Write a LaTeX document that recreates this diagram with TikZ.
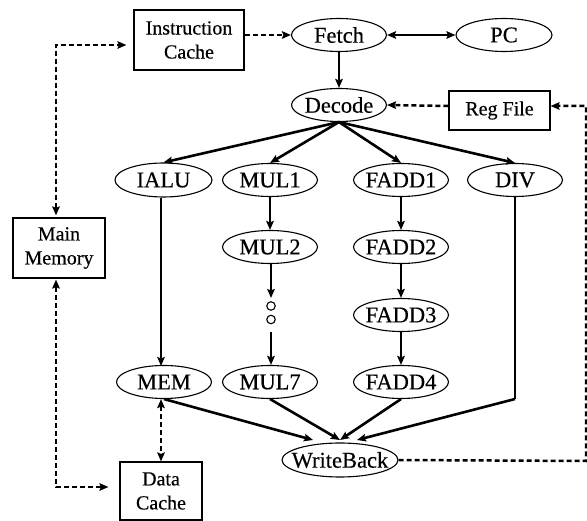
\documentclass[tikz,border=0pt]{standalone}
\usepackage{fontspec}
\setmainfont{Liberation Serif}[FakeBold=0.4]
\usetikzlibrary{arrows.meta,shapes.geometric}
\newcommand\zb[1]{\makebox[0pt]{#1}}
\begin{document}
\begin{tikzpicture}[x=1pt,y=-1pt,
  ell/.style={draw,ellipse,line width=1.1pt,inner sep=0pt,minimum width=95pt,minimum height=33pt,font=\fontsize{22.5}{24}\selectfont},
  boxn/.style={draw,rectangle,line width=1.1pt,inner sep=0pt,align=center,font=\fontsize{20}{24}\selectfont},
  tip/.style={-{Stealth[length=9pt,width=7.5pt,inset=1.5pt]}},
  dtip/.style={{Stealth[length=9pt,width=7.5pt,inset=1.5pt]}-{Stealth[length=9pt,width=7.5pt,inset=1.5pt]}},
  solid2/.style={line width=2.6pt,tip},
  dsh/.style={line width=2.5pt,dash pattern=on 5pt off 3pt},
]
\useasboundingbox (0,0) rectangle (587,521);
% nodes
\node[boxn,minimum width=110pt,minimum height=60pt] (ic) at (189,40) {Instruction\\Cache};
\node[ell] (fetch) at (339,35) {\zb{Fetch}};
\node[ell,minimum width=96pt] (pc) at (504,35) {\zb{PC}};
\node[ell] (decode) at (339,105) {\zb{Decode}};
\node[boxn,minimum width=101pt,minimum height=39pt] (rf) at (499.5,110.5) {Reg File};
\node[boxn,minimum width=92pt,minimum height=60pt] (mm) at (59,248) {Main\\Memory};
\node[boxn,minimum width=82pt,minimum height=58pt] (dc) at (161,491) {Data\\Cache};
\node[ell,minimum width=97pt,minimum height=34pt] (ialu) at (163.5,180) {\zb{IALU}};
\node[ell] (mul1) at (270,180) {\zb{MUL1}};
\node[ell] (fadd1) at (401,180) {\zb{FADD1}};
\node[ell] (div) at (515,180) {\zb{DIV}};
\node[ell] (mul2) at (270,247) {\zb{MUL2}};
\node[ell] (fadd2) at (401,247) {\zb{FADD2}};
\node[ell] (fadd3) at (401,315) {\zb{FADD3}};
\node[ell] (mem) at (164,382) {\zb{MEM}};
\node[ell] (mul7) at (270,382) {\zb{MUL7}};
\node[ell] (fadd4) at (401,382) {\zb{FADD4}};
\node[ell,minimum width=116pt,minimum height=34pt] (wb) at (340,460) {\zb{WriteBack}};
% dots
\node[draw,circle,line width=1.1pt,minimum size=8.5pt,inner sep=0pt] (d1) at (271,306) {};
\node[draw,circle,line width=1.1pt,minimum size=8.5pt,inner sep=0pt] (d2) at (271,319.5) {};
% coordinates
\coordinate (mtop) at (56,45);
\coordinate (mbot) at (56,487);
\coordinate (ialuc) at (161,198);
\coordinate (memc) at (161,366);
\coordinate (dtop) at (271,298);
\coordinate (dbot) at (271,332);
\coordinate (divc) at (515,399);
\coordinate (rc) at (586,461);
\coordinate (rtop) at (586,106);
\coordinate (w1) at (313,440);
\coordinate (w2) at (340,440);
\coordinate (w3) at (357,440);
% top connectors
\draw[dsh,tip] (ic.east |- fetch.west) -- (fetch.west);
\draw[line width=2.6pt,dtip] (fetch.east) -- (pc.west);
\draw[solid2] (fetch.south) -- (decode.north);
\draw[dsh,tip] (rf.west |- rtop) -- (decode.east);
\draw[dsh,tip] (wb.east) -- (rc) -- (rtop) -- (rf.east |- rtop);
% memory connectors
\draw[dsh,dtip,shorten >=7pt,shorten <=2pt] (mtop |- mm.north) -- (mtop) -- (mtop -| ic.west);
\draw[dsh,dtip,shorten >=11pt,shorten <=1pt] (mbot |- mm.south) -- (mbot) -- (mbot -| dc.west);
\draw[dsh,dtip] (dc.north |- mem.south) -- (dc.north);
% decode fan-out
\draw[solid2] (decode.south) -- (ialu.north);
\draw[solid2] (decode.south) -- (mul1.north);
\draw[solid2] (decode.south) -- (fadd1.north);
\draw[solid2] (decode.south) -- (div.north);
% pipelines
\draw[solid2] (ialuc) -- (memc);
\draw[solid2] (mul1.south) -- (mul2.north);
\draw[solid2] (mul2.south -| dtop) -- (dtop);
\draw[solid2] (dbot) -- (mul7.north -| dbot);
\draw[solid2] (fadd1.south) -- (fadd2.north);
\draw[solid2] (fadd2.south) -- (fadd3.north);
\draw[solid2] (fadd3.south) -- (fadd4.north);
\draw[line width=1.2pt] (div.south) -- (divc);
% into writeback
\draw[solid2] (mem.south) -- (w1);
\draw[solid2] (mul7.south) -- (w2);
\draw[solid2] (fadd4.south) -- (w2);
\draw[solid2] (divc) -- (w3);
\end{tikzpicture}
\end{document}
